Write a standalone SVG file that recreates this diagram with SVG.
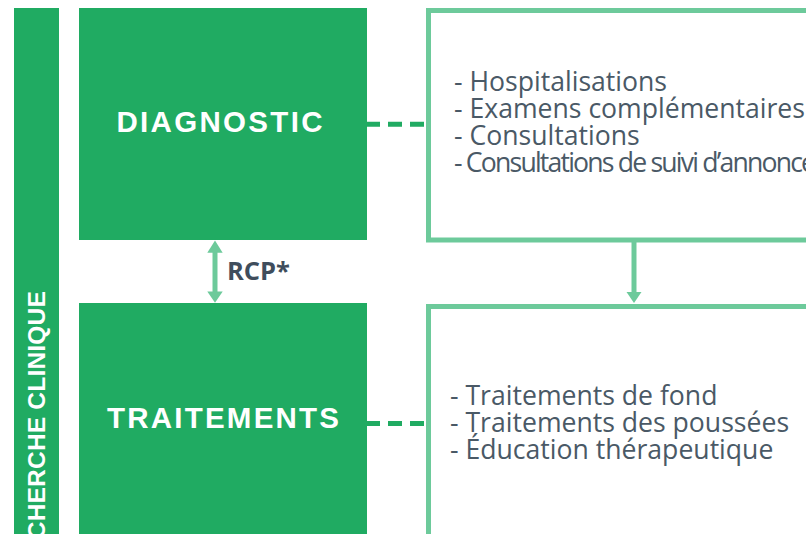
<svg xmlns="http://www.w3.org/2000/svg" width="806" height="534" viewBox="0 0 806 534">
<defs>
<style>
.dark{fill:#20ab62}
.box{fill:#ffffff;stroke:#6dca9b;stroke-width:5}
.title{font-family:"Liberation Sans",Arial,sans-serif;font-weight:bold;fill:#ffffff;font-size:29.5px}
.vert{font-family:"Liberation Sans",Arial,sans-serif;font-weight:bold;fill:#ffffff;font-size:24.5px;letter-spacing:0.2px}
.list{font-family:"Open Sans",sans-serif;font-size:26.6px;fill:#4a5966}
.dash{stroke:#20ab62;stroke-width:5;stroke-dasharray:14 8;fill:none}
.conn{stroke:#6dca9b;stroke-width:5;fill:none}
.head{fill:#6dca9b}
.rcp{font-family:"Open Sans",sans-serif;font-weight:bold;font-size:25.5px;fill:#3f4d5c}
</style>
</defs>
<rect width="806" height="534" fill="#ffffff"/>
<g id="recherche">
<rect class="dark" x="14" y="8" width="45" height="540"/>
<text class="vert" transform="translate(45,291) rotate(-90)" text-anchor="end" x="0" y="0">RECHERCHE CLINIQUE</text>
</g>
<g id="diagnostic">
<rect class="dark" x="79" y="8" width="288" height="232"/>
<text class="title" x="116.5" y="131.7" textLength="206" lengthAdjust="spacing">DIAGNOSTIC</text>
</g>
<g id="traitements">
<rect class="dark" x="79" y="303" width="288" height="240"/>
<text class="title" x="107" y="428.3" textLength="232" lengthAdjust="spacing">TRAITEMENTS</text>
</g>
<g id="diag-details">
<rect class="box" x="428.5" y="10.5" width="400" height="229.5"/>
<text class="list" x="454" y="91">- Hospitalisations</text>
<text class="list" x="454" y="118">- Examens complémentaires</text>
<text class="list" x="454" y="145">- Consultations</text>
<text class="list" x="454" y="172" letter-spacing="-1.8">- Consultations de suivi d’annonce</text>
</g>
<g id="trait-details">
<rect class="box" x="428.5" y="306.5" width="400" height="260"/>
<text class="list" x="450" y="405">- Traitements de fond</text>
<text class="list" x="450" y="432">- Traitements des poussées</text>
<text class="list" x="450" y="459">- Éducation thérapeutique</text>
</g>
<g id="connectors">
<line class="dash" x1="366" y1="124.3" x2="426" y2="124.3"/>
<line class="dash" x1="366" y1="423.5" x2="426" y2="423.5"/>
<line class="conn" x1="634" y1="242" x2="634" y2="293"/>
<polygon class="head" points="626.5,292 641.5,292 634,303"/>
<line class="conn" x1="215" y1="251" x2="215" y2="293"/>
<polygon class="head" points="207.3,252.7 222.7,252.7 215,240.5"/>
<polygon class="head" points="207.3,291.5 222.7,291.5 215,302.7"/>
<text class="rcp" x="227" y="280">RCP*</text>
</g>
</svg>
